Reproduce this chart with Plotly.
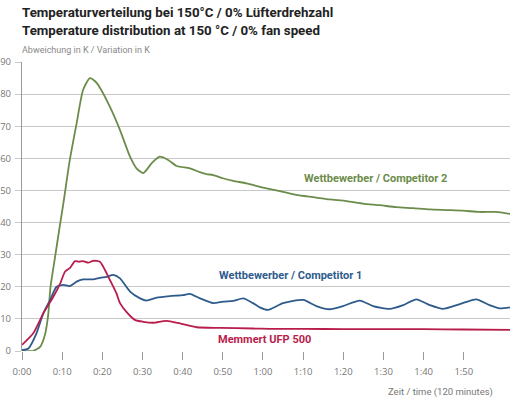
import plotly.graph_objects as go

# Competitor 2 (green)
t_comp2 = [0, 2.7, 4.5, 5.7, 6.5, 7.1, 8.2, 9.3, 10.3, 11.9, 13.6, 15.2, 16.9, 18.2, 19.4,
           21.9, 24.4, 26.9, 28.5, 30.2, 32.3, 34.3, 36.4, 38.5, 41.8, 44.3, 45.9, 47.6, 50,
           52.6, 55.9, 60, 64.2, 68.3, 72.5, 76.6, 80.8, 84.9, 89.1, 93.2, 97.3, 101.5,
           105.6, 109.8, 113.9, 118, 121.5]
v_comp2 = [0, 0, 1.3, 5, 11, 20, 29, 38, 46, 59.5, 70.9, 81.3, 85, 84, 82,
           76, 68.8, 60.5, 56.9, 55.4, 58.5, 60.5, 59.5, 57.6, 56.9, 55.7, 55.1, 54.8, 53.8,
           53, 52.2, 50.9, 49.8, 48.6, 47.9, 47.2, 46.7, 45.9, 45.4, 44.8, 44.5, 44.1,
           43.9, 43.7, 43.3, 43.3, 42.7]

# Competitor 1 (blue)
t_comp1 = [0, 1.6, 3.6, 5.3, 7, 8.6, 10.3, 11.9, 13.6, 15.2, 17.7, 19.4, 21.1, 22.7, 24.4,
           26.9, 29.4, 31, 33.5, 36.8, 40.1, 41.8, 44.3, 47.6, 50.1, 52.6, 55.1, 57.5, 59.2,
           61.3, 65, 70, 73.3, 76.6, 79.9, 84.1, 87.4, 91.5, 94.9, 98.2, 101.5, 104.8, 109,
           113.1, 116.4, 118.9, 121.5]
v_comp1 = [0.3, 0.8, 5.5, 11.7, 15.9, 20, 20.6, 20.2, 21.6, 22.3, 22.3, 22.8, 23.1, 23.7, 22.6,
           18.5, 16.4, 15.7, 16.6, 17.1, 17.4, 17.8, 16.4, 14.9, 15.4, 15.6, 16.4, 14.9, 13.6,
           12.8, 14.9, 15.9, 14, 13, 14, 15.7, 14, 13.1, 14.3, 16.1, 14.3, 13.1, 14.6,
           16.1, 14.3, 13.3, 13.6]

# Memmert UFP 500 (red)
t_memmert = [0, 2.8, 5.3, 7.8, 9.5, 10.7, 11.9, 13.2, 14.2, 15.2, 16.5, 17.7, 19.4, 20.2,
             21.9, 23.5, 24.4, 26, 28.1, 30.2, 32.7, 36, 39.3, 43.5, 49.3, 57.5, 61.7, 70,
             80, 90, 100, 110, 121.5]
v_memmert = [1.9, 5.5, 11.7, 16.9, 21, 24.7, 25.8, 28, 27.8, 28, 27.5, 28.1, 27.8, 26.3,
             22.1, 18, 14.9, 12.2, 9.7, 9.1, 8.8, 9.4, 8.6, 7.4, 7.2, 7.0, 6.9, 6.9,
             6.8, 6.8, 6.8, 6.7, 6.6]

tick_vals = [0, 10, 20, 30, 40, 50, 60, 70, 80, 90, 100, 110]
tick_text = ['0:00', '0:10', '0:20', '0:30', '0:40', '0:50', '1:00', '1:10', '1:20', '1:30', '1:40', '1:50']

GREEN = '#6b8c4a'
BLUE = '#2e5b8c'
RED = '#b81d4c'
FONT = 'Roboto, sans-serif'

fig = go.Figure()
for t, v, col in [(t_comp2, v_comp2, GREEN), (t_comp1, v_comp1, BLUE), (t_memmert, v_memmert, RED)]:
    fig.add_trace(go.Scatter(x=t, y=v, mode='lines',
                             line=dict(color=col, width=1.8, shape='spline', smoothing=0.6),
                             showlegend=False, hoverinfo='skip'))

fig.update_layout(
    width=517, height=400,
    margin=dict(l=22, r=7, t=62, b=49),
    paper_bgcolor='white', plot_bgcolor='white',
    font=dict(family='Open Sans', color='#777'),
    xaxis=dict(range=[0, 121.5], tickvals=tick_vals, ticktext=tick_text, automargin=False,
               showgrid=False, zeroline=False, showline=False,
               ticks='outside', ticklen=8, tickcolor='#999', tickwidth=1.2,
               tickfont=dict(size=9.5, color='#777'), ticklabelstandoff=4),
    yaxis=dict(range=[0, 90], dtick=10, showgrid=True, gridcolor='#c8c8c8', gridwidth=1.3,
               automargin=False, zeroline=False, showline=True, linecolor='#999', linewidth=1.2,
               ticks='outside', ticklen=6, tickcolor='#c8c8c8', tickwidth=1.3,
               tickfont=dict(size=9.5, color='#777'), ticklabelstandoff=2),
)

annotations = [
    dict(text='<b>Temperaturverteilung bei 150°C / 0% Lüfterdrehzahl</b>', x=20, y=12, anchor='left',
         font=dict(family=FONT, size=13.3, color='#222')),
    dict(text='<b>Temperature distribution at 150 °C / 0% fan speed</b>', x=20, y=31, anchor='left',
         font=dict(family=FONT, size=13.3, color='#222')),
    dict(text='Abweichung in K / Variation in K', x=20, y=50, anchor='left',
         font=dict(family=FONT, size=9, color='#888')),
    dict(text='Zeit / time (120 minutes)', x=495, y=392, anchor='right',
         font=dict(family=FONT, size=9.5, color='#777')),
]
for a in annotations:
    fig.add_annotation(text=a['text'], xref='paper', yref='paper',
                       x=(a['x'] - 22) / 488, y=(351 - a['y']) / 289,
                       xanchor=a['anchor'], yanchor='middle', showarrow=False, font=a['font'])

fig.add_annotation(text='<b>Wettbewerber / Competitor 2</b>', x=88, y=53.8, showarrow=False,
                   font=dict(family=FONT, size=11, color=GREEN))
fig.add_annotation(text='<b>Wettbewerber / Competitor 1</b>', x=66.9, y=23.4, showarrow=False,
                   font=dict(family=FONT, size=11, color=BLUE))
fig.add_annotation(text='<b>Memmert UFP 500</b>', x=60.4, y=3.6, showarrow=False,
                   font=dict(family=FONT, size=11, color=RED))

# the page body has a default 8px margin; drop it so the figure sits at the top-left corner
fig.write_html('out.html', config={'displayModeBar': False},
               post_script="document.body.style.margin = '0';")
